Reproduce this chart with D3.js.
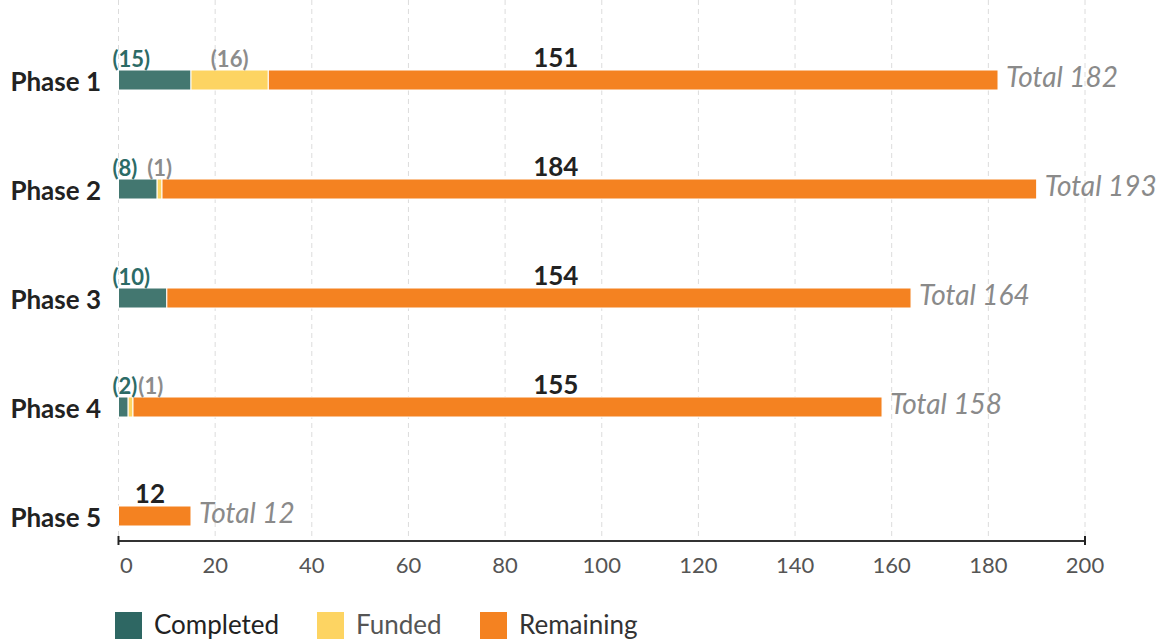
<!DOCTYPE html>
<html>
<head>
<meta charset="utf-8">
<script src="https://cdn.jsdelivr.net/npm/d3@7"></script>
<style>
  html, body { margin: 0; padding: 0; background: #fff; }
  svg { display: block; font-family: Lato, "Open Sans", sans-serif; }
</style>
</head>
<body>
<svg id="chart" width="1167" height="641"></svg>
<script>
// ---- data ----
const phases = ["Phase 1", "Phase 2", "Phase 3", "Phase 4", "Phase 5"];
const completed = [15, 8, 10, 2, 0];
const funded = [16, 1, 0, 1, 0];
const remaining = [151, 181, 154, 155, 15];           // bar lengths as drawn
const remainingLabels = ["151", "184", "154", "155", "12"];
const completedLabels = ["(15)", "(8)", "(10)", "(2)", ""];
const fundedLabels = ["(16)", "(1)", "", "(1)", ""];
const totalLabels = ["Total 182", "Total 193", "Total 164", "Total 158", "Total 12"];
const xTicks = [0, 20, 40, 60, 80, 100, 120, 140, 160, 180, 200];
const seriesNames = ["Completed", "Funded", "Remaining"];
const seriesColors = ["#437770", "#fdd462", "#f48221"];
const legendColors = ["#2e6763", "#fdd462", "#f48221"];
const legendText = ["#222", "#555", "#333"];

// ---- build ----
const svg = d3.select("#chart");
const x = d3.scaleLinear().domain([0, 200]).range([118.5, 1085]);
const y = d3.scalePoint().domain(phases).range([80, 516]);
const barH = 20;
const axisY = 541;

// gridlines
svg.append("g").selectAll("line").data(xTicks).join("line")
  .attr("x1", d => x(d)).attr("x2", d => x(d))
  .attr("y1", 0).attr("y2", axisY)
  .attr("stroke", "#dcdcdc").attr("stroke-width", 1)
  .attr("stroke-dasharray", "5,4");

const rows = phases.map((p, i) => {
  const segs = [completed[i], funded[i], remaining[i]];
  let acc = 0;
  return {
    phase: p, i,
    segs: segs.map((v, k) => { const s = { k, x0: acc, x1: acc + v }; acc += v; return s; }),
    total: acc
  };
});

// bars
const rowG = svg.append("g").selectAll("g").data(rows).join("g");
rowG.selectAll("rect").data(d => d.segs.filter(s => s.x1 > s.x0).map(s => ({...s, phase: d.phase})))
  .join("rect")
  .attr("x", s => x(s.x0))
  .attr("width", s => x(s.x1) - x(s.x0))
  .attr("y", s => y(s.phase) - barH / 2)
  .attr("height", barH)
  .attr("fill", s => seriesColors[s.k])
  .attr("stroke", "#fff").attr("stroke-width", 1);

// phase labels
svg.append("g").selectAll("text").data(phases).join("text")
  .attr("x", 101).attr("y", d => y(d) + 10.5)
  .attr("text-anchor", "end")
  .attr("font-size", 26).attr("font-weight", 700).attr("fill", "#222")
  .text(d => d);

// remaining labels
svg.append("g").selectAll("text").data(rows).join("text")
  .attr("x", d => x(d.total > 100 ? 90.5 : d.total / 2 - 1))
  .attr("y", d => y(d.phase) - 13.5)
  .attr("text-anchor", "middle")
  .attr("font-size", 26).attr("font-weight", 700).attr("fill", "#222")
  .text(d => remainingLabels[d.i]);

// completed labels
const compText = svg.append("g").selectAll("text").data(rows).join("text")
  .attr("x", x(0) - 6)
  .attr("y", d => y(d.phase) - 13.5)
  .attr("text-anchor", "start")
  .attr("font-size", 22).attr("font-weight", 700).attr("fill", "#2c6b66")
  .text(d => completedLabels[d.i]);

// funded labels (centered on segment, pushed right if overlapping)
const compEnds = [];
compText.each(function(d) { compEnds[d.i] = x(0) - 6 + this.getComputedTextLength(); });
svg.append("g").selectAll("text").data(rows).join("text")
  .attr("y", d => y(d.phase) - 13.5)
  .attr("font-size", 22).attr("font-weight", 700).attr("fill", "#8c8c8c")
  .attr("text-anchor", "start")
  .text(d => fundedLabels[d.i])
  .each(function(d) {
    const w = this.getComputedTextLength();
    const s = d.segs[1];
    let start = (x(s.x0) + x(s.x1)) / 2 - w / 2;
    start = Math.max(start, compEnds[d.i] + 1);
    d3.select(this).attr("x", start);
  });

// total labels
svg.append("g").selectAll("text").data(rows).join("text")
  .attr("x", d => x(d.total) + 8)
  .attr("y", d => y(d.phase) + 7)
  .attr("font-size", 28).attr("font-style", "italic").attr("fill", "#8a8a8a")
  .text(d => totalLabels[d.i]);

// axis
const axisG = svg.append("g").attr("transform", `translate(0,${axisY})`);
axisG.append("line").attr("x1", x(0)).attr("x2", x(200)).attr("stroke", "#333").attr("stroke-width", 2);
axisG.selectAll("line.end").data([0, 200]).join("line").attr("class", "end")
  .attr("x1", d => x(d)).attr("x2", d => x(d)).attr("y1", -5).attr("y2", 4)
  .attr("stroke", "#222").attr("stroke-width", 2);
axisG.selectAll("text").data(xTicks).join("text")
  .attr("x", d => x(d) + (d === 0 ? 8 : 0))
  .attr("y", 32)
  .attr("text-anchor", "middle")
  .attr("font-size", 22).attr("fill", "#555")
  .text(d => d);

// legend
const legX = [115, 317, 480];
const leg = svg.append("g").selectAll("g").data(seriesNames).join("g")
  .attr("transform", (d, i) => `translate(${legX[i]},612)`);
leg.append("rect").attr("width", 27).attr("height", 27).attr("fill", (d, i) => legendColors[i]);
leg.append("text").attr("x", 39).attr("y", 22)
  .attr("font-size", 26).attr("fill", (d, i) => legendText[i])
  .text(d => d);
</script>
</body>
</html>
